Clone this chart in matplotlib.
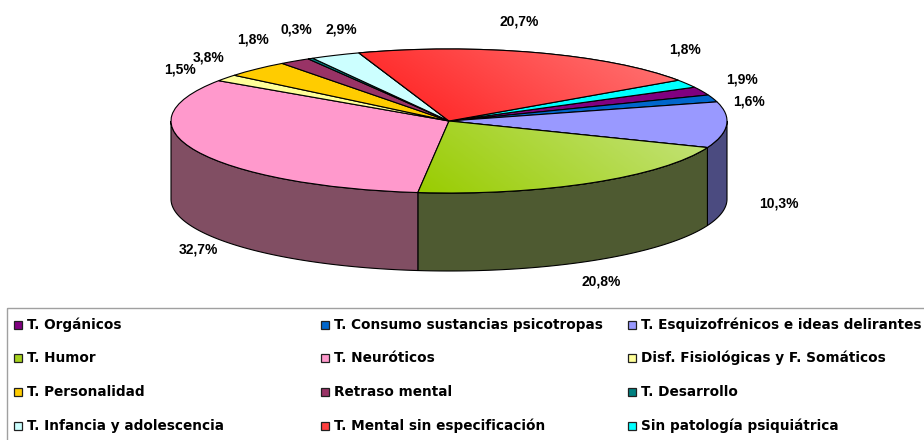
import numpy as np
import matplotlib
matplotlib.use('Agg')
import matplotlib.pyplot as plt
from matplotlib.patches import Polygon, Rectangle, Wedge
from matplotlib.colors import LinearSegmentedColormap

# ---------------- data ----------------
categories = ["T. Orgánicos", "T. Consumo sustancias psicotropas",
              "T. Esquizofrénicos e ideas delirantes",
              "T. Humor", "T. Neuróticos", "Disf. Fisiológicas y F. Somáticos",
              "T. Personalidad", "Retraso mental", "T. Desarrollo",
              "T. Infancia y adolescencia", "T. Mental sin especificación",
              "Sin patología psiquiátrica"]
values = [1.9, 1.6, 10.3, 20.8, 32.7, 1.5, 3.8, 1.8, 0.3, 2.9, 20.7, 1.8]
value_labels = ["1,9%", "1,6%", "10,3%", "20,8%", "32,7%", "1,5%",
                "3,8%", "1,8%", "0,3%", "2,9%", "20,7%", "1,8%"]

# ---------------- style ----------------
colors = ['#800080', '#0066CC', '#9999FF', '#A6D21E', '#FF99CC', '#FFFF99',
          '#FFCC00', '#993366', '#008080', '#CCFFFF', '#FF4040', '#00FFFF']
side_colors = ['#400040', '#003366', '#4B4B80', '#4E5A31', '#814E63', '#80804C',
               '#806600', '#4C1933', '#004040', '#668080', '#802020', '#008080']
gradients = {3: ('#99CC00', '#C6E480'), 10: ('#FF1A1A', '#FF7878')}

# label positions (pixels, text centres)
label_pos = [(742, 80), (749, 101), (779, 204), (601, 282), (198, 250),
             (180, 69), (209, 58), (253, 39), (296, 30), (341, 30),
             (519, 22), (685, 50)]

W, H = 924, 440
CX, CY, A, B, D = 449, 121, 278, 72, 78  # pie geometry in pixels
START = 28

plt.rcParams['font.family'] = ['Liberation Sans', 'DejaVu Sans']
fig = plt.figure(figsize=(W / 100, H / 100), dpi=100)
fig.patch.set_facecolor('white')

ax = fig.add_axes([0, 0, 1, 1])
wedges, _ = ax.pie(values, colors=colors, startangle=START, counterclock=False,
                   radius=1, center=(0, 0), frame=True,
                   wedgeprops=dict(edgecolor='black', linewidth=0.8, zorder=3))
ax.set_aspect('auto')
ax.set_xlim(-CX / A, (W - CX) / A)
ax.set_ylim((CY - H) / B, CY / B)
d = D / B

# side walls (front half of the cylinder)
for w, sc in zip(wedges, side_colors):
    t1, t2 = w.theta1, w.theta2
    for k in range(-2, 3):
        lo = max(t1, 180 + 360 * k)
        hi = min(t2, 360 + 360 * k)
        if hi > lo:
            t = np.radians(np.linspace(lo, hi, 200))
            xs, ys = np.cos(t), np.sin(t)
            poly = np.vstack([np.column_stack([xs, ys]),
                              np.column_stack([xs[::-1], ys[::-1] - d])])
            ax.add_patch(Polygon(poly, closed=True, fc=sc, ec='black',
                                 lw=0.8, zorder=1))

# gradient fills on some top faces
renderer = fig.canvas.get_renderer()
for idx, (c1, c2) in gradients.items():
    w = wedges[idx]
    cmap = LinearSegmentedColormap.from_list('g%d' % idx, [c1, c2])
    bb = w.get_window_extent(renderer=renderer)
    inv = ax.transData.inverted()
    (x0, y0), (x1, y1) = inv.transform([[bb.x0, bb.y0], [bb.x1, bb.y1]])
    GX, GY = np.meshgrid(np.linspace(0, 1, 200), np.linspace(0, 1, 100))
    grad = np.clip(0.75 * GX + 0.25 * GY, 0, 1)
    im = ax.imshow(grad, cmap=cmap, extent=(x0, x1, y1, y0), origin='upper',
                   aspect='auto', zorder=3.5, interpolation='bilinear')
    im.set_clip_path(w)
    ax.add_patch(Wedge(w.center, w.r, w.theta1, w.theta2,
                       fc='none', ec='black', lw=0.8, zorder=4))

ax.set_aspect('auto')
ax.set_xlim(-CX / A, (W - CX) / A)
ax.set_ylim((CY - H) / B, CY / B)
ax.axis('off')

# overlay in pixel coordinates for texts and legend
lax = fig.add_axes([0, 0, 1, 1], facecolor='none')
lax.set_xlim(0, W)
lax.set_ylim(H, 0)
lax.axis('off')

for (x, y), s in zip(label_pos, value_labels):
    lax.text(x, y, s, ha='center', va='center', fontsize=10,
             fontweight='bold', color='black')

# legend
lax.add_patch(Rectangle((7, 308), 1000, 200, fc='none', ec='#A0A0A0', lw=1.0))
col_x = [18, 325, 632]
row_y = [325, 358, 392, 426]
for i, (name, c) in enumerate(zip(categories, colors)):
    r, cidx = divmod(i, 3)
    x, y = col_x[cidx], row_y[r]
    lax.add_patch(Rectangle((x - 4, y - 4), 8, 8, fc=c, ec='#202020', lw=0.9))
    lax.text(x + 9, y, name, ha='left', va='center', fontsize=9.8,
             fontweight='bold', color='black', family=['DejaVu Sans'])

fig.savefig('out.png', dpi=100)
